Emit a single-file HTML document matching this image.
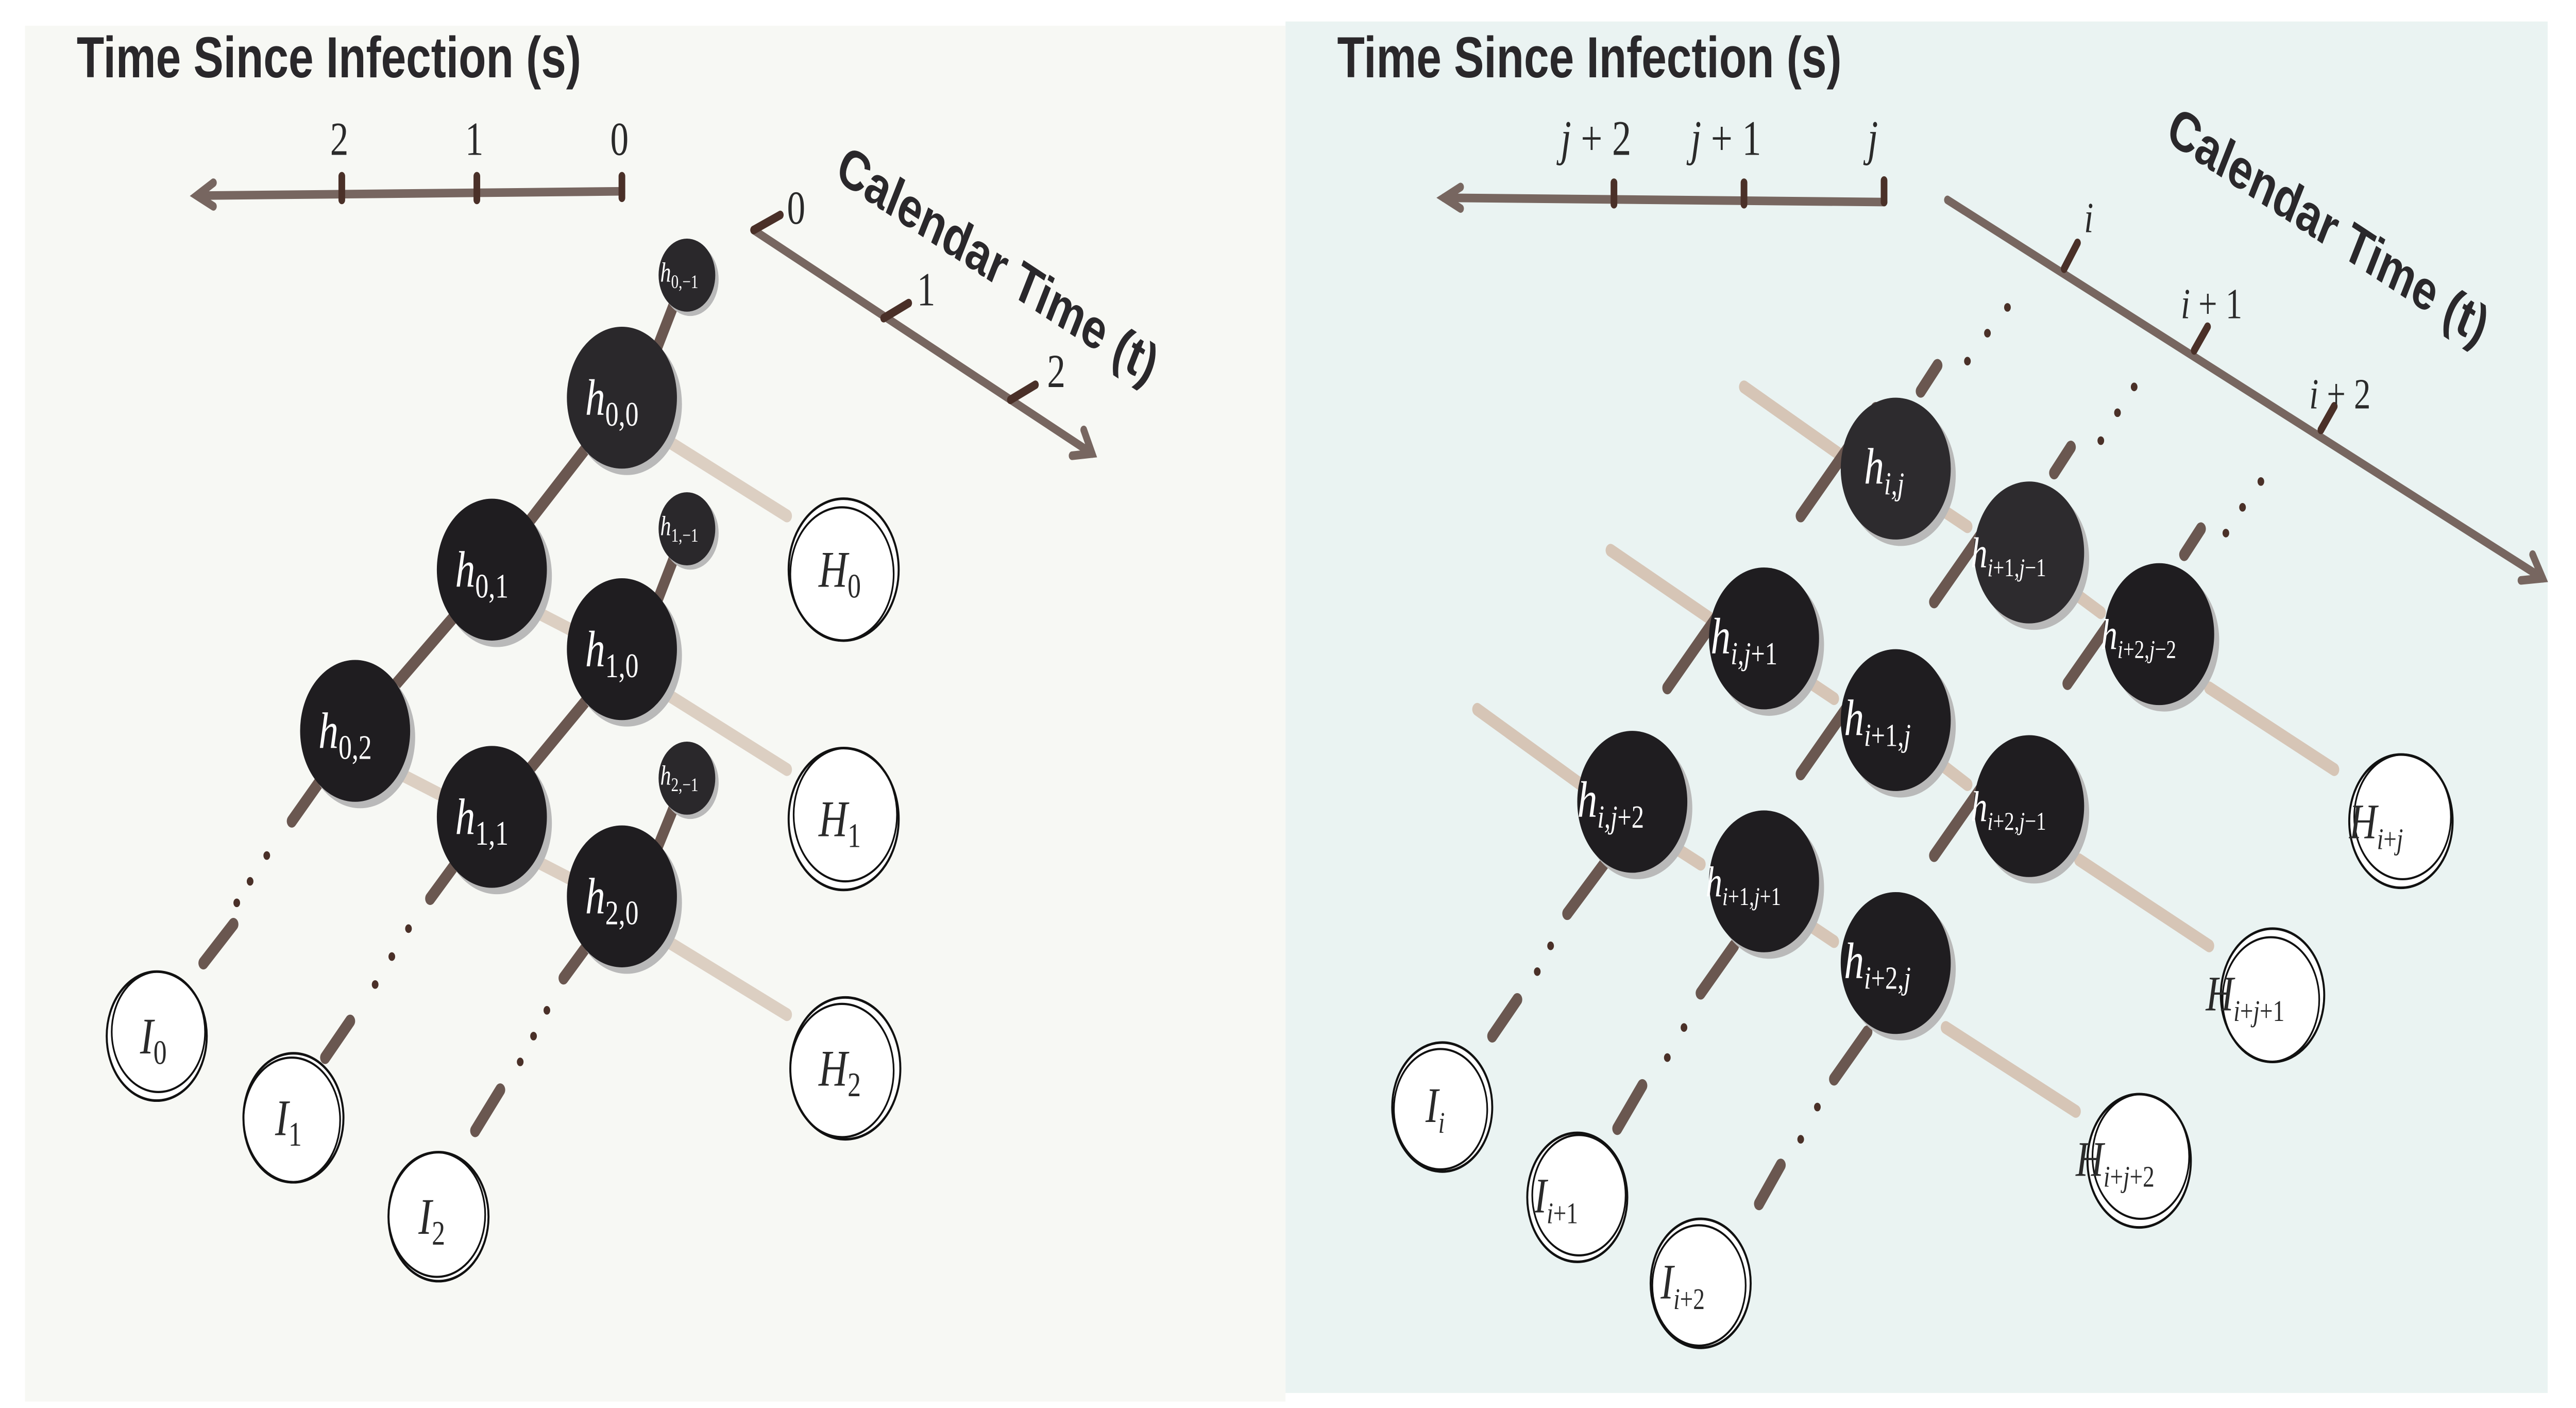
<!DOCTYPE html>
<html><head><meta charset="utf-8"><style>
html,body{margin:0;padding:0;background:#fff;overflow:hidden;width:100%;height:100%;}
svg{display:block;position:fixed;left:0;top:0;width:100vw;height:100vh;}
.t{font-family:"Liberation Sans",sans-serif;font-weight:bold;fill:#2a282b;}
.m{font-family:"Liberation Serif",serif;fill:#2a2a2a;}
.w{font-family:"Liberation Serif",serif;fill:#fff;font-style:italic;}
.mi{font-family:"Liberation Serif",serif;fill:#2a2a2a;font-style:italic;}
</style></head><body>
<svg viewBox="0 0 1545 655" preserveAspectRatio="none" xmlns="http://www.w3.org/2000/svg">
<rect width="1545" height="655" fill="#fff"/>
<rect x="15" y="12" width="756" height="640" fill="#f7f8f4"/>
<rect x="771" y="10" width="757" height="638" fill="#eaf3f2"/>

<!-- LEFT -->
<text class="t" x="46" y="36" font-size="27">Time Since Infection (s)</text>
<g stroke="#776660" stroke-width="4" fill="none" stroke-linecap="round">
<line x1="120" y1="91" x2="373" y2="89"/>
<polyline points="128,85 118,91 128,96"/>
<line x1="452" y1="107" x2="655" y2="211"/>
<polyline points="643,212 655,211 650,200"/>
</g>
<g stroke="#4a3028" stroke-width="4" stroke-linecap="round">
<line x1="205" y1="82" x2="205" y2="93"/><line x1="286" y1="82" x2="286" y2="93"/><line x1="373" y1="82" x2="373" y2="92"/>
<line x1="452" y1="107" x2="468" y2="100"/><line x1="530" y1="148" x2="545" y2="141"/><line x1="606" y1="186" x2="621" y2="179"/>
</g>
<text class="m" x="198" y="72" font-size="22">2</text><text class="m" x="279" y="72" font-size="22">1</text><text class="m" x="366" y="72" font-size="22">0</text>
<text class="m" x="472" y="104" font-size="22">0</text><text class="m" x="550" y="142" font-size="22">1</text><text class="m" x="628" y="180" font-size="22">2</text>
<text class="t" x="500" y="83" font-size="26" transform="rotate(27 500 83)">Calendar Time (t)</text>

<g stroke="#dccfc2" stroke-width="6" stroke-linecap="round">
<line x1="390" y1="200" x2="472" y2="240"/><line x1="390" y1="318" x2="472" y2="358"/><line x1="390" y1="433" x2="472" y2="472"/>
<line x1="310" y1="280" x2="360" y2="300"/><line x1="230" y1="356" x2="280" y2="376"/><line x1="310" y1="396" x2="360" y2="416"/>
</g>
<g stroke="#6a5750" stroke-width="6" stroke-linecap="round">
<line x1="405" y1="140" x2="385" y2="180"/><line x1="405" y1="258" x2="385" y2="298"/><line x1="405" y1="374" x2="385" y2="412"/>
<line x1="360" y1="200" x2="310" y2="250"/><line x1="280" y1="280" x2="230" y2="325"/>
<line x1="360" y1="318" x2="310" y2="365"/>
<line x1="195" y1="360" x2="175" y2="382"/><line x1="140" y1="430" x2="122" y2="448"/>
<line x1="275" y1="400" x2="258" y2="418"/><line x1="210" y1="475" x2="195" y2="492"/>
<line x1="355" y1="437" x2="338" y2="455"/><line x1="300" y1="507" x2="285" y2="526"/>
</g>
<g fill="#4a3028">
<circle cx="160" cy="398" r="2"/><circle cx="150" cy="410" r="2"/><circle cx="142" cy="420" r="2"/>
<circle cx="245" cy="432" r="2"/><circle cx="235" cy="445" r="2"/><circle cx="225" cy="458" r="2"/>
<circle cx="328" cy="470" r="2"/><circle cx="320" cy="482" r="2"/><circle cx="312" cy="494" r="2"/>
</g>
<g fill="#b9b9b9">
<circle cx="376" cy="188" r="33"/><circle cx="298" cy="268" r="33"/><circle cx="376" cy="305" r="33"/>
<circle cx="216" cy="343" r="33"/><circle cx="298" cy="383" r="33"/><circle cx="376" cy="420" r="33"/>
<circle cx="414" cy="130" r="17"/><circle cx="414" cy="248" r="17"/><circle cx="414" cy="364" r="17"/>
</g>
<g fill="#1f1d20">
<circle cx="373" cy="185" r="33" fill="#2a282b"/><circle cx="295" cy="265" r="33"/><circle cx="373" cy="302" r="33"/>
<circle cx="213" cy="340" r="33"/><circle cx="295" cy="380" r="33"/><circle cx="373" cy="417" r="33"/>
<circle cx="412" cy="128" r="17" fill="#2a282b"/><circle cx="412" cy="246" r="17" fill="#2a282b"/><circle cx="412" cy="362" r="17" fill="#2a282b"/>
</g>
<g class="w" font-size="24">
<text x="351" y="193">h<tspan font-size="16" font-style="normal" dy="5">0,0</tspan></text>
<text x="273" y="273">h<tspan font-size="16" font-style="normal" dy="5">0,1</tspan></text>
<text x="351" y="310">h<tspan font-size="16" font-style="normal" dy="5">1,0</tspan></text>
<text x="191" y="348">h<tspan font-size="16" font-style="normal" dy="5">0,2</tspan></text>
<text x="273" y="388">h<tspan font-size="16" font-style="normal" dy="5">1,1</tspan></text>
<text x="351" y="425">h<tspan font-size="16" font-style="normal" dy="5">2,0</tspan></text>
</g>
<g class="w" font-size="13">
<text x="396" y="131">h<tspan font-size="9" font-style="normal" dy="3">0,−1</tspan></text>
<text x="396" y="249">h<tspan font-size="9" font-style="normal" dy="3">1,−1</tspan></text>
<text x="396" y="365">h<tspan font-size="9" font-style="normal" dy="3">2,−1</tspan></text>
</g>
<g fill="#fff" stroke="#111" stroke-width="1.2">
<circle cx="506" cy="265" r="33"/><circle cx="506" cy="381" r="33"/><circle cx="507" cy="497" r="33"/>
<circle cx="94" cy="482" r="30"/><circle cx="176" cy="520" r="30"/><circle cx="263" cy="566" r="30"/>
</g>
<g fill="none" stroke="#111" stroke-width="1">
<circle cx="505" cy="267" r="31"/><circle cx="507" cy="379" r="31"/><circle cx="505" cy="498" r="31"/>
<circle cx="95" cy="480" r="28"/><circle cx="175" cy="521" r="29"/><circle cx="262" cy="565" r="29"/>
</g>
<g class="mi" font-size="24">
<text x="491" y="273">H<tspan font-size="16" font-style="normal" dy="5">0</tspan></text>
<text x="491" y="389">H<tspan font-size="16" font-style="normal" dy="5">1</tspan></text>
<text x="491" y="505">H<tspan font-size="16" font-style="normal" dy="5">2</tspan></text>
<text x="84" y="490">I<tspan font-size="16" font-style="normal" dy="5">0</tspan></text>
<text x="165" y="528">I<tspan font-size="16" font-style="normal" dy="5">1</tspan></text>
<text x="251" y="574">I<tspan font-size="16" font-style="normal" dy="5">2</tspan></text>
</g>

<!-- RIGHT -->
<text class="t" x="802" y="36" font-size="27">Time Since Infection (s)</text>
<g stroke="#776660" stroke-width="4" fill="none" stroke-linecap="round">
<line x1="866" y1="92" x2="1130" y2="94"/>
<polyline points="876,87 866,92 876,97"/>
<line x1="1168" y1="93" x2="1525" y2="269"/>
<polyline points="1512,270 1525,269 1519,258"/>
</g>
<g stroke="#4a3028" stroke-width="4" stroke-linecap="round">
<line x1="968" y1="85" x2="968" y2="95"/><line x1="1046" y1="85" x2="1046" y2="95"/><line x1="1130" y1="84" x2="1130" y2="94"/>
<line x1="1238" y1="125" x2="1246" y2="113"/><line x1="1316" y1="163" x2="1324" y2="152"/><line x1="1392" y1="200" x2="1400" y2="189"/>
</g>
<g class="mi" font-size="23">
<text x="936" y="72">j <tspan font-style="normal">+ 2</tspan></text>
<text x="1014" y="72">j <tspan font-style="normal">+ 1</tspan></text>
<text x="1120" y="72">j</text>
<text x="1250" y="108" font-size="20">i</text>
<text x="1308" y="148" font-size="20">i <tspan font-style="normal">+ 1</tspan></text>
<text x="1385" y="190" font-size="20">i <tspan font-style="normal">+ 2</tspan></text>
</g>
<text class="t" x="1298" y="65" font-size="26" transform="rotate(27 1298 65)">Calendar Time (t)</text>

<g stroke="#d6c5b6" stroke-width="6" stroke-linecap="round">
<line x1="1046" y1="180" x2="1110" y2="215"/><line x1="966" y1="256" x2="1030" y2="290"/><line x1="886" y1="330" x2="950" y2="366"/>
<line x1="1155" y1="232" x2="1180" y2="245"/><line x1="1234" y1="270" x2="1260" y2="285"/>
<line x1="1075" y1="312" x2="1100" y2="325"/><line x1="1155" y1="350" x2="1180" y2="365"/>
<line x1="996" y1="390" x2="1020" y2="402"/><line x1="1075" y1="425" x2="1100" y2="438"/>
<line x1="1325" y1="320" x2="1400" y2="358"/><line x1="1247" y1="400" x2="1325" y2="440"/><line x1="1167" y1="478" x2="1245" y2="517"/>
</g>
<g stroke="#6a5750" stroke-width="6" stroke-linecap="round">
<line x1="1125" y1="190" x2="1080" y2="240"/><line x1="1045" y1="270" x2="1000" y2="320"/>
<line x1="1205" y1="230" x2="1160" y2="280"/><line x1="1125" y1="310" x2="1080" y2="360"/>
<line x1="1285" y1="268" x2="1240" y2="318"/><line x1="1205" y1="348" x2="1160" y2="398"/>
<line x1="1152" y1="182" x2="1162" y2="170"/><line x1="1232" y1="220" x2="1242" y2="208"/><line x1="1310" y1="258" x2="1320" y2="246"/>
<line x1="962" y1="402" x2="940" y2="425"/><line x1="910" y1="465" x2="895" y2="482"/>
<line x1="1040" y1="440" x2="1020" y2="462"/><line x1="985" y1="505" x2="970" y2="525"/>
<line x1="1120" y1="480" x2="1100" y2="502"/><line x1="1068" y1="542" x2="1055" y2="560"/>
</g>
<g fill="#4a3028">
<circle cx="1180" cy="168" r="2"/><circle cx="1192" cy="155" r="2"/><circle cx="1204" cy="143" r="2"/>
<circle cx="1260" cy="205" r="2"/><circle cx="1270" cy="192" r="2"/><circle cx="1280" cy="180" r="2"/>
<circle cx="1335" cy="248" r="2"/><circle cx="1345" cy="236" r="2"/><circle cx="1356" cy="224" r="2"/>
<circle cx="930" cy="440" r="2"/><circle cx="922" cy="452" r="2"/>
<circle cx="1010" cy="478" r="2"/><circle cx="1000" cy="492" r="2"/>
<circle cx="1090" cy="515" r="2"/><circle cx="1080" cy="530" r="2"/>
</g>
<g fill="#b9b9b9">
<circle cx="1140" cy="221" r="33"/><circle cx="1220" cy="260" r="33"/><circle cx="1298" cy="298" r="33"/>
<circle cx="1061" cy="300" r="33"/><circle cx="1140" cy="338" r="33"/><circle cx="1220" cy="378" r="33"/>
<circle cx="982" cy="376" r="33"/><circle cx="1061" cy="413" r="33"/><circle cx="1140" cy="451" r="33"/>
</g>
<g fill="#1f1d20">
<circle cx="1137" cy="218" r="33" fill="#2d2b2e"/><circle cx="1217" cy="257" r="33" fill="#2d2b2e"/><circle cx="1295" cy="295" r="33"/>
<circle cx="1058" cy="297" r="33"/><circle cx="1137" cy="335" r="33"/><circle cx="1217" cy="375" r="33"/>
<circle cx="979" cy="373" r="33"/><circle cx="1058" cy="410" r="33"/><circle cx="1137" cy="448" r="33"/>
</g>
<g class="w" font-size="24">
<text x="1118" y="225">h<tspan font-size="15" dy="5">i,j</tspan></text>
<text x="1026" y="304">h<tspan font-size="15" dy="5">i,j<tspan font-style="normal">+1</tspan></tspan></text>
<text x="1106" y="342">h<tspan font-size="15" dy="5">i<tspan font-style="normal">+1,</tspan>j</tspan></text>
<text x="946" y="380">h<tspan font-size="15" dy="5">i,j<tspan font-style="normal">+2</tspan></tspan></text>
<text x="1106" y="455">h<tspan font-size="15" dy="5">i<tspan font-style="normal">+2,</tspan>j</tspan></text>
</g>
<g class="w" font-size="20">
<text x="1182" y="264">h<tspan font-size="12" dy="4">i<tspan font-style="normal">+1,</tspan>j<tspan font-style="normal">−1</tspan></tspan></text>
<text x="1260" y="302">h<tspan font-size="12" dy="4">i<tspan font-style="normal">+2,</tspan>j<tspan font-style="normal">−2</tspan></tspan></text>
<text x="1182" y="382">h<tspan font-size="12" dy="4">i<tspan font-style="normal">+2,</tspan>j<tspan font-style="normal">−1</tspan></tspan></text>
<text x="1023" y="417">h<tspan font-size="12" dy="4">i<tspan font-style="normal">+1,</tspan>j<tspan font-style="normal">+1</tspan></tspan></text>
</g>
<g fill="#fff" stroke="#111" stroke-width="1.2">
<circle cx="1440" cy="382" r="31"/><circle cx="1363" cy="463" r="31"/><circle cx="1283" cy="540" r="31"/>
<circle cx="865" cy="515" r="30"/><circle cx="946" cy="557" r="30"/><circle cx="1020" cy="597" r="30"/>
</g>
<g fill="none" stroke="#111" stroke-width="1">
<circle cx="1441" cy="380" r="29"/><circle cx="1362" cy="465" r="29"/><circle cx="1284" cy="538" r="29"/>
<circle cx="864" cy="516" r="28"/><circle cx="947" cy="556" r="28"/><circle cx="1019" cy="598" r="28"/>
</g>
<g class="mi" font-size="23">
<text x="1409" y="390">H<tspan font-size="14" dy="5">i<tspan font-style="normal">+</tspan>j</tspan></text>
<text x="1323" y="470">H<tspan font-size="14" dy="5">i<tspan font-style="normal">+</tspan>j<tspan font-style="normal">+1</tspan></tspan></text>
<text x="1245" y="547">H<tspan font-size="14" dy="5">i<tspan font-style="normal">+</tspan>j<tspan font-style="normal">+2</tspan></tspan></text>
<text x="855" y="522">I<tspan font-size="14" dy="5">i</tspan></text>
<text x="920" y="564">I<tspan font-size="14" dy="5">i<tspan font-style="normal">+1</tspan></tspan></text>
<text x="996" y="604">I<tspan font-size="14" dy="5">i<tspan font-style="normal">+2</tspan></tspan></text>
</g>
</svg>
</body></html>
